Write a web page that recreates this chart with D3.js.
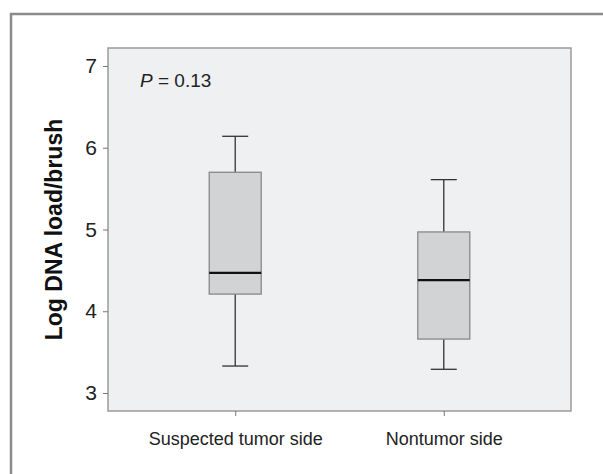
<!DOCTYPE html>
<html>
<head>
<meta charset="utf-8">
<script src="https://cdn.jsdelivr.net/npm/d3@7"></script>
<style>
  body { margin: 0; background: #fff; }
  svg { display: block; font-family: "Liberation Sans", Arial, Helvetica, sans-serif; }
</style>
</head>
<body>
<div id="chart"></div>
<script>
// box plot stats
const groups = ["Suspected tumor side", "Nontumor side"]
const whiskerLow = [3.33, 3.29]
const q1 = [4.21, 3.66]
const medians = [4.47, 4.38]
const q3 = [5.70, 4.97]
const whiskerHigh = [6.14, 5.61]
const yTicks = [3, 4, 5, 6, 7]
const pLabel = "0.13"

const totalWidth = 603
const totalHeight = 474

// plot area inside the page
var margin = {top: 48, right: 32, bottom: 63, left: 108},
    width = totalWidth - margin.left - margin.right,
    height = totalHeight - margin.top - margin.bottom;

var svg = d3.select("#chart")
  .append("svg")
  .attr("width", totalWidth)
  .attr("height", totalHeight)

// outer frame (only top and left show)
svg.append("path")
  .attr("d", "M11,474 V14 H603")
  .attr("fill", "none")
  .attr("stroke", "#8c8c8c")
  .attr("stroke-width", 2.5)

var g = svg.append("g")
  .attr("transform", "translate(" + margin.left + "," + margin.top + ")")

// plot background
g.append("rect")
  .attr("width", width)
  .attr("height", height)
  .attr("fill", "#eff0f2")
  .attr("stroke", "#9a9a9a")
  .attr("stroke-width", 1.5)

var y = d3.scaleLinear()
  .domain([2.78, 7.22])
  .range([height, 0])

var x = d3.scalePoint()
  .domain(groups)
  .range([0, width])
  .padding(0.61)

// y axis
var yAxis = g.append("g")
  .call(d3.axisLeft(y).tickValues(yTicks).tickSize(5).tickPadding(6).tickFormat(d3.format("d")))
yAxis.select(".domain").remove()
yAxis.selectAll("line").attr("stroke", "#777")
yAxis.selectAll("text")
  .attr("font-size", 21)
  .attr("fill", "#222")
  .attr("font-family", "Liberation Sans, Arial, sans-serif")

// x axis
var xAxis = g.append("g")
  .attr("transform", "translate(0," + height + ")")
  .call(d3.axisBottom(x).tickSize(5).tickPadding(16))
xAxis.select(".domain").remove()
xAxis.selectAll("line").attr("stroke", "#777")
xAxis.selectAll("text")
  .attr("font-size", 18)
  .attr("fill", "#222")
  .attr("font-family", "Liberation Sans, Arial, sans-serif")

var boxW = 52
var capW = 26

var boxes = g.selectAll(".box")
  .data(groups)
  .enter()
  .append("g")
  .attr("class", "box")

// whiskers
boxes.append("line")
  .attr("x1", d => x(d)).attr("x2", d => x(d))
  .attr("y1", (d, i) => y(whiskerHigh[i]))
  .attr("y2", (d, i) => y(whiskerLow[i]))
  .attr("stroke", "#333")
  .attr("stroke-width", 1.3)

boxes.append("line")
  .attr("x1", d => x(d) - capW / 2).attr("x2", d => x(d) + capW / 2)
  .attr("y1", (d, i) => y(whiskerHigh[i])).attr("y2", (d, i) => y(whiskerHigh[i]))
  .attr("stroke", "#333")
  .attr("stroke-width", 1.3)

boxes.append("line")
  .attr("x1", d => x(d) - capW / 2).attr("x2", d => x(d) + capW / 2)
  .attr("y1", (d, i) => y(whiskerLow[i])).attr("y2", (d, i) => y(whiskerLow[i]))
  .attr("stroke", "#333")
  .attr("stroke-width", 1.3)

// box
boxes.append("rect")
  .attr("x", d => x(d) - boxW / 2)
  .attr("width", boxW)
  .attr("y", (d, i) => y(q3[i]))
  .attr("height", (d, i) => y(q1[i]) - y(q3[i]))
  .attr("fill", "#d2d3d5")
  .attr("stroke", "#888")
  .attr("stroke-width", 1.3)

// median
boxes.append("line")
  .attr("x1", d => x(d) - boxW / 2).attr("x2", d => x(d) + boxW / 2)
  .attr("y1", (d, i) => y(medians[i])).attr("y2", (d, i) => y(medians[i]))
  .attr("stroke", "#111")
  .attr("stroke-width", 2.3)

// P value
var pText = g.append("text")
  .attr("x", 32)
  .attr("y", 39)
  .attr("font-size", 19)
  .attr("fill", "#222")
pText.append("tspan").attr("font-style", "italic").text("P")
pText.append("tspan").text(" = " + pLabel)

// y axis title
svg.append("text")
  .attr("transform", "translate(62," + (margin.top + height / 2) + ") rotate(-90)")
  .attr("text-anchor", "middle")
  .attr("font-size", 23)
  .attr("font-weight", "bold")
  .attr("fill", "#111")
  .text("Log DNA load/brush")
</script>
</body>
</html>
